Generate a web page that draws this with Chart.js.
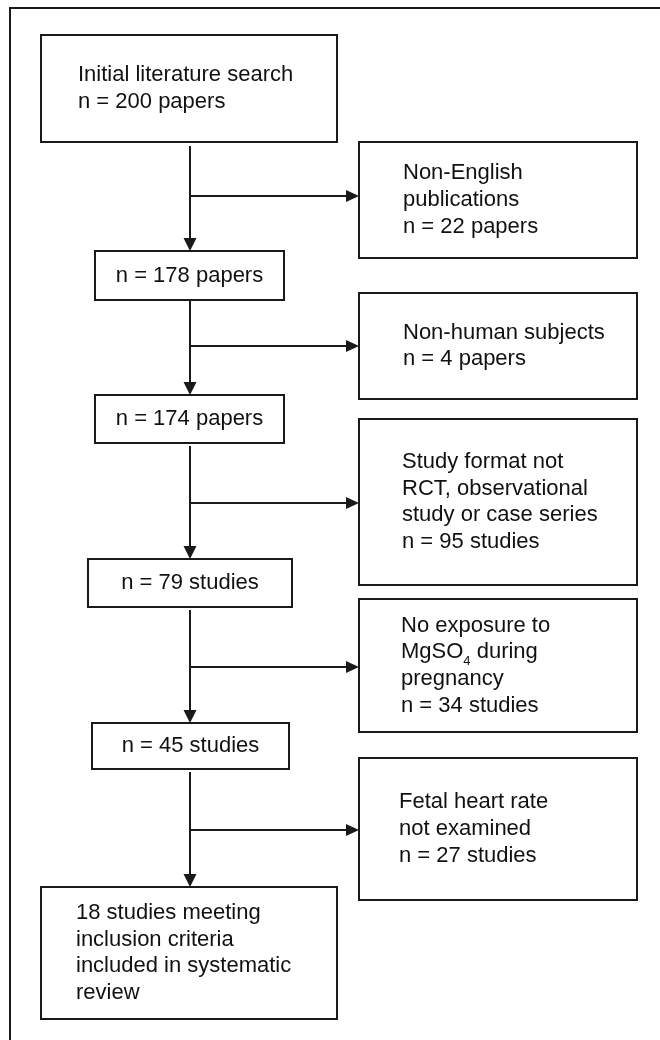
<!DOCTYPE html>
<html>
<head>
<meta charset="utf-8">
<script src="https://cdn.jsdelivr.net/npm/chart.js@4/dist/chart.umd.min.js"></script>
<style>
  html, body { margin: 0; padding: 0; background: #ffffff; }
  #wrap { width: 660px; height: 1040px; }
</style>
</head>
<body>
<div id="wrap"><canvas id="c" width="660" height="1040"></canvas></div>
<script>
// ---------- DATA ----------
const stageCounts = [200, 178, 174, 79, 45, 18];
const stageUnits = ['papers', 'papers', 'papers', 'studies', 'studies', 'studies'];
const stageTitles = [['Initial literature search'], [], [], [], [], ['{n} studies meeting', 'inclusion criteria', 'included in systematic', 'review']];
const exclusionReasons = [
  ['Non-English', 'publications'],
  ['Non-human subjects'],
  ['Study format not', 'RCT, observational', 'study or case series'],
  ['No exposure to', 'MgSO_4 during', 'pregnancy'],
  ['Fetal heart rate', 'not examined']
];
const exclusionCounts = [22, 4, 95, 34, 27];
const exclusionUnits = ['papers', 'papers', 'studies', 'studies', 'studies'];

// ---------- LAYOUT (scale units) ----------
const layout = {
  spineX: 190,
  stageBoxes: [
    { x0: 41, x1: 337, y0: 35, y1: 142, tx: 78 },
    { x0: 95, x1: 284, y0: 251, y1: 300 },
    { x0: 95, x1: 284, y0: 395, y1: 443 },
    { x0: 88, x1: 292, y0: 559, y1: 607 },
    { x0: 92, x1: 289, y0: 723, y1: 769 },
    { x0: 41, x1: 337, y0: 887, y1: 1019, tx: 76, lastOnly: true }
  ],
  spineStarts: [146, 300, 446, 610, 772],
  exclBoxes: [
    { x0: 359, x1: 637, y0: 142, y1: 258, tx: 403 },
    { x0: 359, x1: 637, y0: 293, y1: 399, tx: 403 },
    { x0: 359, x1: 637, y0: 419, y1: 585, tx: 402 },
    { x0: 359, x1: 637, y0: 599, y1: 732, tx: 401 },
    { x0: 359, x1: 637, y0: 758, y1: 900, tx: 399 }
  ],
  branchY: [196, 346, 503, 667, 830],
  frame: { x: 10, y: 8 },
  lineHeight: 26.7
};
const style = {
  font: '22px "Liberation Sans", Arial, sans-serif',
  subFont: '13px "Liberation Sans", Arial, sans-serif',
  text: '#111111',
  stroke: '#1a1a1a',
  lw: 2
};

function countLine(n, unit) { return 'n = ' + n + ' ' + unit; }

const flowPlugin = {
  id: 'flow',
  afterDraw(chart) {
    const ctx = chart.ctx;
    const sx = chart.scales.x, sy = chart.scales.y;
    const X = v => sx.getPixelForValue(v);
    const Y = v => sy.getPixelForValue(v);
    ctx.save();
    ctx.strokeStyle = style.stroke;
    ctx.fillStyle = style.text;
    ctx.lineWidth = style.lw;

    // frame (top + left)
    ctx.beginPath();
    ctx.moveTo(X(660), Y(layout.frame.y));
    ctx.lineTo(X(layout.frame.x), Y(layout.frame.y));
    ctx.lineTo(X(layout.frame.x), Y(1040));
    ctx.stroke();

    function rect(b) {
      ctx.strokeRect(X(b.x0), Y(b.y0), X(b.x1) - X(b.x0), Y(b.y1) - Y(b.y0));
    }
    function drawLine(x1, y1, x2, y2) {
      ctx.beginPath(); ctx.moveTo(X(x1), Y(y1)); ctx.lineTo(X(x2), Y(y2)); ctx.stroke();
    }
    function arrowDown(x, y) {
      const px = X(x), py = Y(y);
      ctx.beginPath(); ctx.moveTo(px, py); ctx.lineTo(px - 6.5, py - 13); ctx.lineTo(px + 6.5, py - 13); ctx.closePath(); ctx.fill();
    }
    function arrowRight(x, y) {
      const px = X(x), py = Y(y);
      ctx.beginPath(); ctx.moveTo(px, py); ctx.lineTo(px - 13, py - 6); ctx.lineTo(px - 13, py + 6); ctx.closePath(); ctx.fill();
    }
    function drawTextLine(str, x, y, center) {
      ctx.textBaseline = 'middle';
      if (str.indexOf('_') >= 0) {
        const parts = str.split('_');
        const head = parts[0];
        const sub = parts[1].charAt(0);
        const tail = parts[1].slice(1);
        ctx.font = style.font;
        let w1 = ctx.measureText(head).width;
        ctx.font = style.subFont;
        let w2 = ctx.measureText(sub).width;
        ctx.font = style.font;
        let w3 = ctx.measureText(tail).width;
        let sxp = center ? x - (w1 + w2 + w3) / 2 : x;
        ctx.textAlign = 'left';
        ctx.font = style.font; ctx.fillText(head, sxp, y);
        ctx.font = style.subFont; ctx.fillText(sub, sxp + w1, y + 9);
        ctx.font = style.font; ctx.fillText(tail, sxp + w1 + w2, y);
      } else {
        ctx.font = style.font;
        ctx.textAlign = center ? 'center' : 'left';
        ctx.fillText(str, x, y);
      }
    }
    function boxText(b, lines) {
      const cy = (Y(b.y0) + Y(b.y1)) / 2;
      const lh = layout.lineHeight;
      const start = cy - (lines.length - 1) * lh / 2;
      const center = b.tx === undefined;
      const x = center ? (X(b.x0) + X(b.x1)) / 2 : X(b.tx);
      lines.forEach((l, i) => drawTextLine(l, x, start + i * lh, center));
    }

    // stage boxes
    layout.stageBoxes.forEach((b, i) => {
      rect(b);
      let lines;
      if (i === stageCounts.length - 1) {
        lines = stageTitles[i].map(s => s.replace('{n}', stageCounts[i]));
      } else {
        lines = stageTitles[i].concat([countLine(stageCounts[i], stageUnits[i])]);
      }
      boxText(b, lines);
    });

    // exclusion boxes
    layout.exclBoxes.forEach((b, i) => {
      rect(b);
      boxText(b, exclusionReasons[i].concat([countLine(exclusionCounts[i], exclusionUnits[i])]));
    });

    // connectors
    ctx.fillStyle = style.stroke;
    for (let i = 0; i < exclusionCounts.length; i++) {
      const top = layout.spineStarts[i];
      const bot = layout.stageBoxes[i + 1].y0;
      drawLine(layout.spineX, top, layout.spineX, bot - 12);
      arrowDown(layout.spineX, bot);
      const by = layout.branchY[i];
      const ex = layout.exclBoxes[i].x0;
      drawLine(layout.spineX, by, ex - 12, by);
      arrowRight(ex, by);
    }
    ctx.restore();
  }
};

new Chart(document.getElementById('c'), {
  type: 'scatter',
  data: { datasets: [{ data: [], pointRadius: 0 }] },
  options: {
    responsive: false,
    animation: false,
    devicePixelRatio: 1,
    layout: { padding: 0 },
    plugins: { legend: { display: false }, tooltip: { enabled: false } },
    scales: {
      x: { type: 'linear', min: 0, max: 660, display: false },
      y: { type: 'linear', min: 0, max: 1040, reverse: true, display: false }
    }
  },
  plugins: [flowPlugin]
});
</script>
</body>
</html>
